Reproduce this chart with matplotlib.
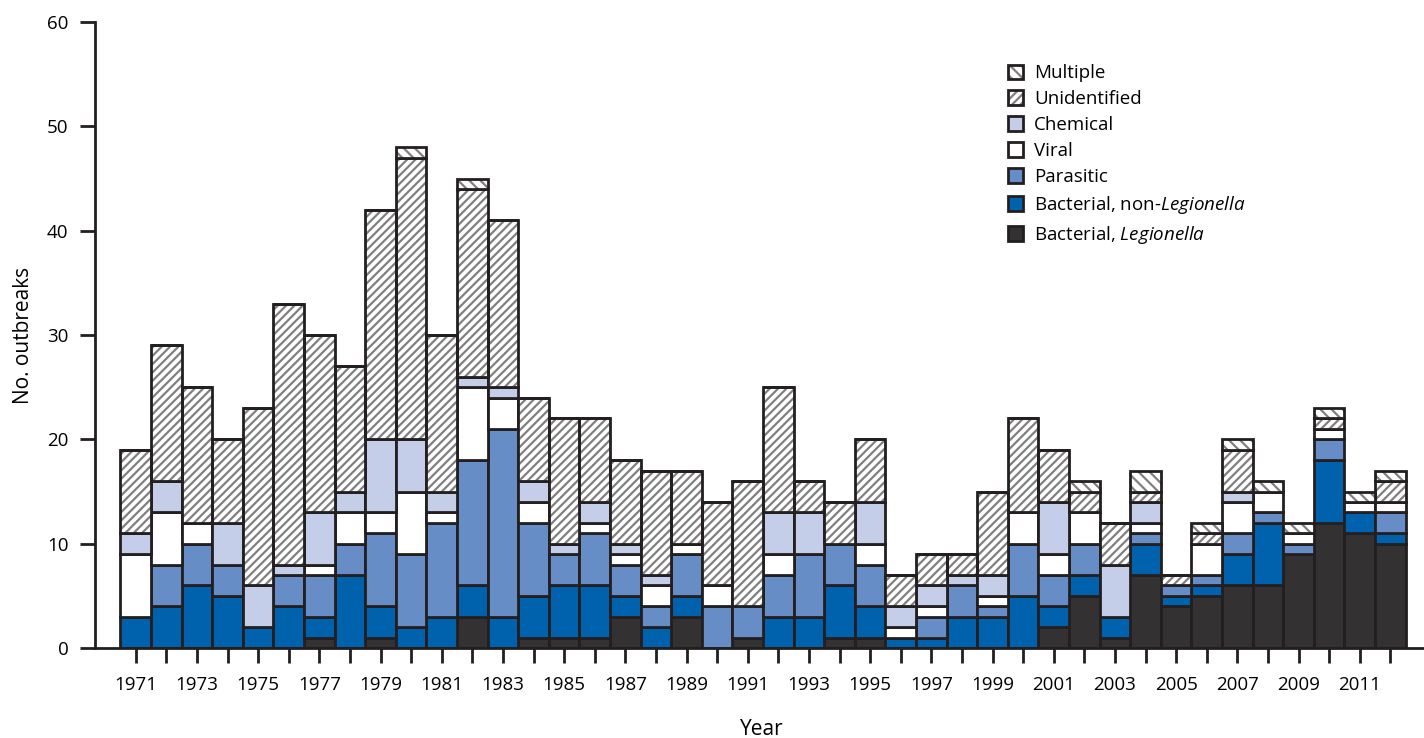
import numpy as np
import matplotlib
matplotlib.use('Agg')
import matplotlib.pyplot as plt
from matplotlib.patches import Patch

years = list(range(1971, 2013))

legionella = [0, 0, 0, 0, 0, 0, 1, 0, 1, 0, 0, 3, 0, 1, 1, 1, 3, 0, 3, 0, 1,
              0, 0, 1, 1, 0, 0, 0, 0, 0, 2, 5, 1, 7, 4, 5, 6, 6, 9, 12, 11, 10]
bacterial = [3, 4, 6, 5, 2, 4, 2, 7, 3, 2, 3, 3, 3, 4, 5, 5, 2, 2, 2, 0, 0,
             3, 3, 5, 3, 1, 1, 3, 3, 5, 2, 2, 2, 3, 1, 1, 3, 6, 0, 6, 2, 1]
parasitic = [0, 4, 4, 3, 0, 3, 4, 3, 7, 7, 9, 12, 18, 7, 3, 5, 3, 2, 4, 4, 3,
             4, 6, 4, 4, 0, 2, 3, 1, 5, 3, 3, 0, 1, 1, 1, 2, 1, 1, 2, 0, 2]
viral = [6, 5, 2, 0, 0, 0, 1, 3, 2, 6, 1, 7, 3, 2, 0, 1, 1, 2, 1, 2, 0,
         2, 0, 0, 2, 1, 1, 0, 1, 3, 2, 3, 0, 1, 0, 3, 3, 2, 1, 1, 1, 1]
chemical = [2, 3, 0, 4, 4, 1, 5, 2, 7, 5, 2, 1, 1, 2, 1, 2, 1, 1, 0, 0, 0,
            4, 4, 0, 4, 2, 2, 1, 2, 0, 5, 0, 5, 2, 0, 0, 1, 0, 0, 0, 0, 0]
unidentified = [8, 13, 13, 8, 17, 25, 17, 12, 22, 27, 15, 18, 16, 8, 12, 8, 8, 10, 7, 8, 12,
                12, 3, 4, 6, 3, 3, 2, 8, 9, 5, 2, 4, 1, 1, 1, 4, 0, 0, 1, 0, 2]
multiple = [0, 0, 0, 0, 0, 0, 0, 0, 0, 1, 0, 1, 0, 0, 0, 0, 0, 0, 0, 0, 0,
            0, 0, 0, 0, 0, 0, 0, 0, 0, 0, 1, 0, 2, 0, 1, 1, 1, 1, 1, 1, 1]

plt.rcParams['font.family'] = ['Open Sans', 'DejaVu Sans']
plt.rcParams['mathtext.fontset'] = 'custom'
plt.rcParams['mathtext.rm'] = 'Open Sans'
plt.rcParams['mathtext.it'] = 'Open Sans:italic'
plt.rcParams['hatch.linewidth'] = 1.6

edge = '#231F20'
hatch_gray = '#808080'
lw = 2.0

fig = plt.figure(figsize=(14.24, 7.38), dpi=100)
ax = fig.add_axes([95 / 1424, 90 / 738, 1 - 95 / 1424, 626 / 738])

x = np.arange(len(years))
width = 1.0

solid_layers = [
    (legionella, '#333132'),
    (bacterial, '#0061AC'),
    (parasitic, '#678DC6'),
    (viral, '#FFFFFF'),
    (chemical, '#C5CEE8'),
]
hatch_layers = [
    (unidentified, '////'),
    (multiple, '\\\\\\'),
]

bottom = np.zeros(len(years))
for vals, col in solid_layers:
    vals = np.array(vals)
    ax.bar(x, vals, width, bottom=bottom, color=col, edgecolor=edge, linewidth=lw)
    bottom += vals
for vals, h in hatch_layers:
    vals = np.array(vals)
    # hatch in gray, outline drawn separately in near-black
    ax.bar(x, vals, width, bottom=bottom, color='white', edgecolor=hatch_gray,
           hatch=h, linewidth=0)
    ax.bar(x, vals, width, bottom=bottom, fill=False, edgecolor=edge, linewidth=lw)
    bottom += vals

ax.set_xlim(-1.33, 42.1)
ax.set_ylim(0, 60)
ax.set_yticks(range(0, 61, 10))
ax.set_xticks(x)
ax.set_xticklabels([str(y) if (y - 1971) % 2 == 0 else '' for y in years])
ax.tick_params(axis='both', direction='out', length=11, width=2, color=edge,
               labelsize=13.5, pad=8)
ax.tick_params(axis='x', pad=9)
for s in ['top', 'right']:
    ax.spines[s].set_visible(False)
for s in ['left', 'bottom']:
    ax.spines[s].set_linewidth(2)
    ax.spines[s].set_color(edge)

ax.set_xlabel('Year', fontsize=15)
ax.xaxis.set_label_coords(0.502, -0.113)
ax.set_ylabel('No. outbreaks', fontsize=15)
ax.yaxis.set_label_coords(-0.046, 0.5)

handles = [
    (Patch(facecolor='white', edgecolor=hatch_gray, hatch='\\\\\\', linewidth=0),
     Patch(fill=False, edgecolor=edge, linewidth=lw)),
    (Patch(facecolor='white', edgecolor=hatch_gray, hatch='////', linewidth=0),
     Patch(fill=False, edgecolor=edge, linewidth=lw)),
    Patch(facecolor='#C5CEE8', edgecolor=edge, linewidth=lw),
    Patch(facecolor='#FFFFFF', edgecolor=edge, linewidth=lw),
    Patch(facecolor='#678DC6', edgecolor=edge, linewidth=lw),
    Patch(facecolor='#0061AC', edgecolor=edge, linewidth=lw),
    Patch(facecolor='#333132', edgecolor=edge, linewidth=lw),
]
labels = ['Multiple', 'Unidentified', 'Chemical', 'Viral', 'Parasitic',
          'Bacterial, non-$\\mathit{Legionella}$', 'Bacterial, $\\mathit{Legionella}$']
fig.legend(handles, labels, loc='upper left', bbox_to_anchor=(1000 / 1424, 1 - 57 / 738),
           frameon=False, fontsize=13.5, handlelength=0.85, handleheight=0.85,
           handletextpad=0.55, labelspacing=0.42, borderaxespad=0)

fig.savefig('out.png', dpi=100)
